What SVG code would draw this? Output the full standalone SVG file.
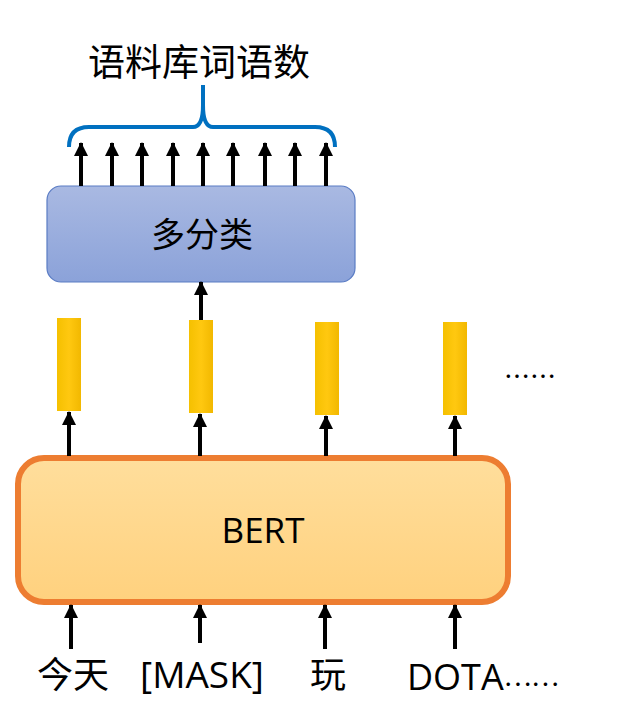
<svg xmlns="http://www.w3.org/2000/svg" width="623" height="720" viewBox="0 0 623 720">
<style>
text{font-family:"Open Sans","Noto Sans CJK SC",sans-serif;fill:#000;text-anchor:middle}
.cjk{font-family:"Noto Sans CJK SC",sans-serif}
.arr{stroke:#000;stroke-width:4;fill:none;marker-end:url(#ah)}
.bar{fill:url(#gy)}
</style>
<defs>
<marker id="ah" viewBox="0 0 14 14" refX="13" refY="7" markerWidth="14" markerHeight="14" markerUnits="userSpaceOnUse" orient="auto">
<path d="M0,0 L14,7 L0,14 Z" fill="#000"/>
</marker>
<linearGradient id="gb" x1="0" y1="0" x2="0" y2="1"><stop offset="0" stop-color="#A9B9E2"/><stop offset="1" stop-color="#8BA2D9"/></linearGradient>
<linearGradient id="go" x1="0" y1="0" x2="0" y2="1"><stop offset="0" stop-color="#FFDE9C"/><stop offset="1" stop-color="#FFD17E"/></linearGradient>
<linearGradient id="gy" x1="0" y1="0" x2="1" y2="0"><stop offset="0" stop-color="#F5C000"/><stop offset="0.5" stop-color="#FFC810"/><stop offset="1" stop-color="#F2B800"/></linearGradient>
</defs>
<g id="title"><text x="199" y="76" font-size="37">语料库词语数</text></g>
<g id="brace"><path d="M69,147 Q69,127 89,127 L193,127 Q203,127 203,105 L203,85 M203,105 Q203,127 213,127 L315,127 Q335,127 335,147" fill="none" stroke="#0070C0" stroke-width="4"/></g>
<g id="classifier">
<rect x="47" y="186" width="308" height="96" rx="14" fill="url(#gb)" stroke="#5A7CC4" stroke-width="1.2"/>
<text x="202" y="247" font-size="34">多分类</text>
</g>
<g id="vectors">
<rect class="bar" x="57" y="318" width="24" height="93"/>
<rect class="bar" x="189" y="320" width="24" height="93"/>
<rect class="bar" x="315" y="322" width="24" height="93"/>
<rect class="bar" x="443" y="322" width="24" height="93"/>
<text class="cjk" x="530" y="386" font-size="26">……</text>
</g>
<g id="bert">
<rect x="18" y="458" width="490" height="144" rx="26" fill="url(#go)" stroke="#ED7D31" stroke-width="6"/>
<text x="263" y="543" font-size="35">BERT</text>
</g>
<g id="inputs">
<text x="73" y="688" font-size="36">今天</text>
<text x="202" y="688" font-size="37">[MASK]</text>
<text x="328" y="688" font-size="36">玩</text>
<text x="407" y="690" font-size="36" style="text-anchor:start">DOTA<tspan class="cjk" font-size="26" dy="-4">……</tspan></text>
</g>
<g id="connectors">
<line class="arr" x1="81" y1="186" x2="81" y2="143"/>
<line class="arr" x1="112" y1="186" x2="112" y2="143"/>
<line class="arr" x1="142" y1="186" x2="142" y2="143"/>
<line class="arr" x1="173" y1="186" x2="173" y2="143"/>
<line class="arr" x1="203" y1="186" x2="203" y2="143"/>
<line class="arr" x1="233" y1="186" x2="233" y2="143"/>
<line class="arr" x1="265" y1="186" x2="265" y2="143"/>
<line class="arr" x1="295" y1="186" x2="295" y2="143"/>
<line class="arr" x1="326" y1="186" x2="326" y2="143"/>
<line class="arr" x1="201" y1="320" x2="201" y2="282"/>
<line class="arr" x1="69" y1="456" x2="69" y2="412"/>
<line class="arr" x1="200" y1="456" x2="200" y2="414"/>
<line class="arr" x1="326" y1="456" x2="326" y2="416"/>
<line class="arr" x1="455" y1="456" x2="455" y2="416"/>
<line class="arr" x1="71" y1="649" x2="71" y2="605"/>
<line class="arr" x1="200" y1="643" x2="200" y2="605"/>
<line class="arr" x1="325" y1="649" x2="325" y2="605"/>
<line class="arr" x1="455" y1="649" x2="455" y2="605"/>
</g>
</svg>
